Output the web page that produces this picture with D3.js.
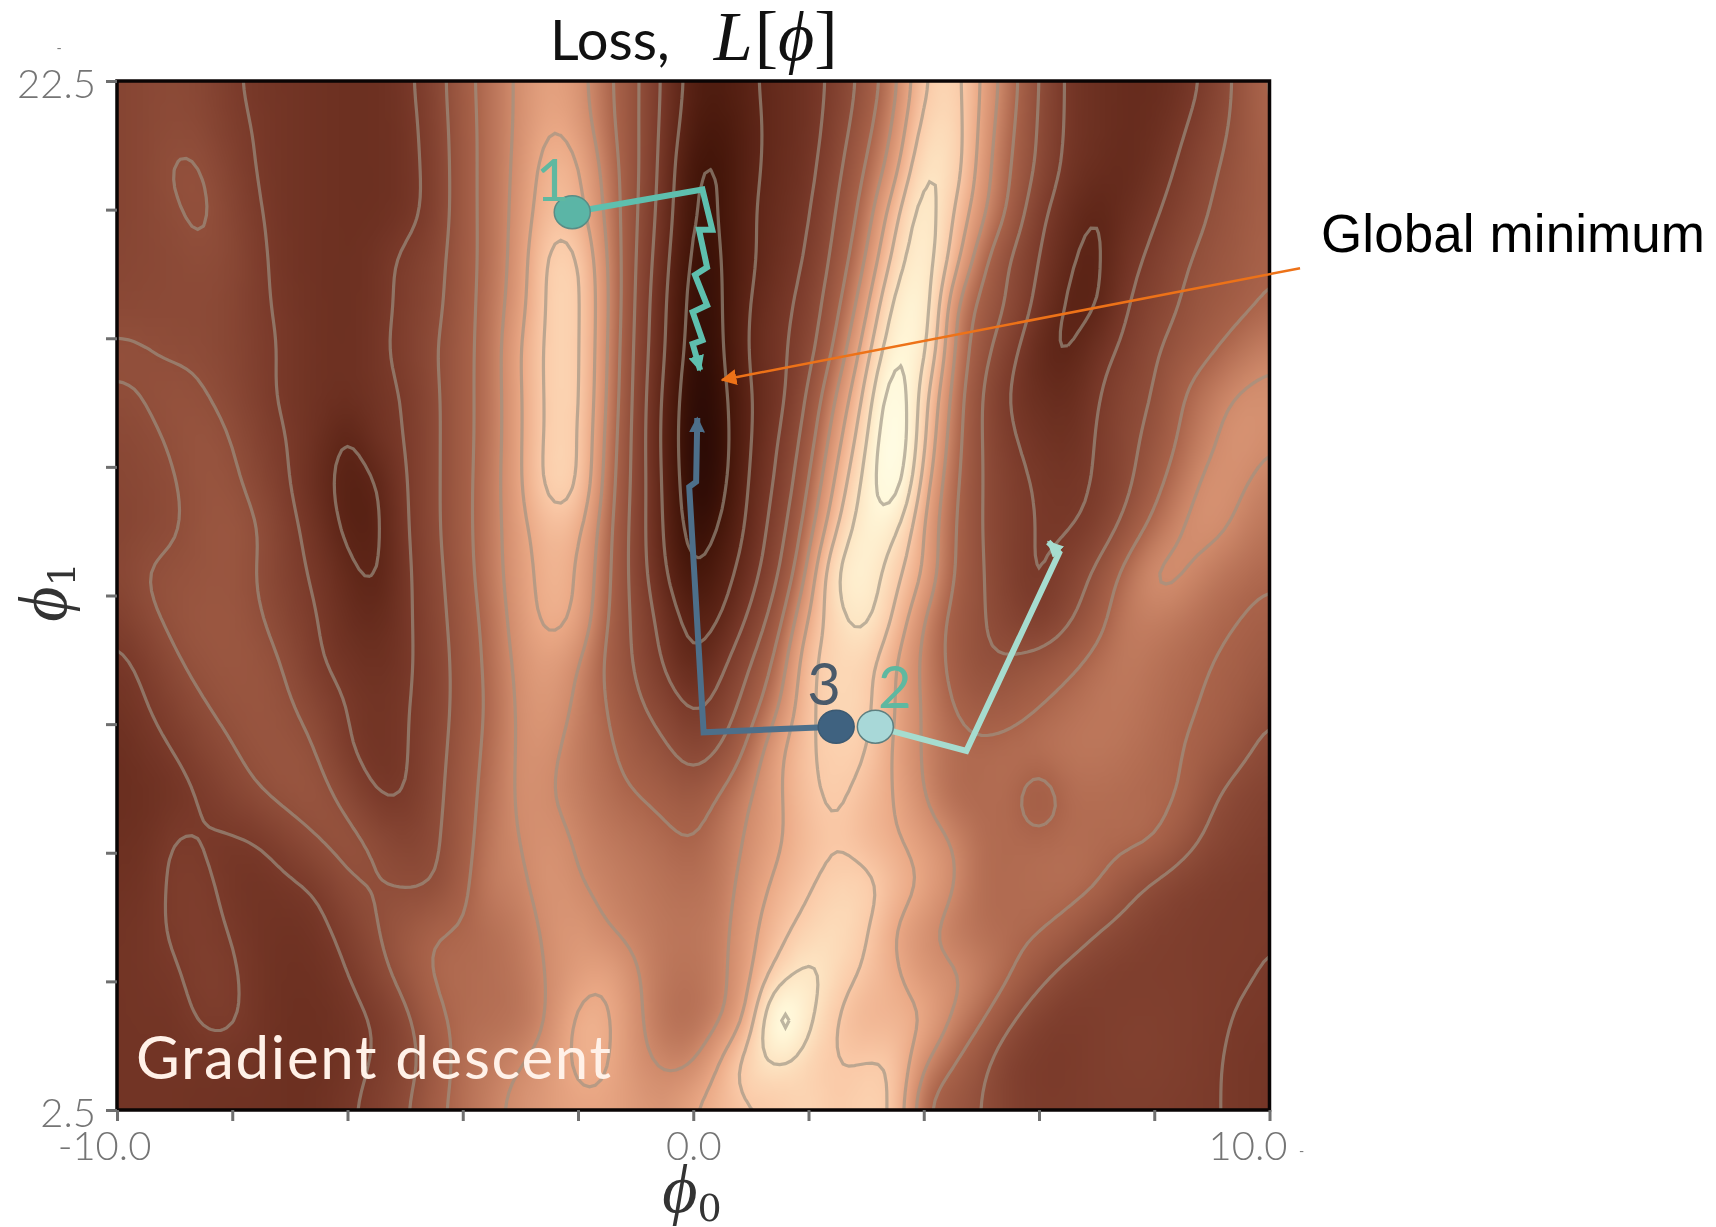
<!DOCTYPE html>
<html>
<head>
<meta charset="utf-8">
<style>
  html, body { margin: 0; padding: 0; background: #fff; }
  #wrap { position: relative; width: 1716px; height: 1227px; overflow: hidden; }
  canvas, svg { position: absolute; left: 0; top: 0; }
</style>
<script src="https://cdn.jsdelivr.net/npm/d3@7"></script>
</head>
<body>
<div id="wrap"></div>
<script>
// loss, in contour-level units, top row is phi1 = 22.5
const lossRows = [
  [3.5,3.7,3.8,3.6,3.1,2.8,2.7,2.6,2.5,2.5,2.8,3.5,4.7,5.4,6.2,6.8,6.4,5.2,4.2,2.8,1.6,1.5,1.9,2.3,2.6,3.3,4.4,5.7,7.9,8.5,6.9,5.4,4.0,2.8,2.5,2.3,2.3,2.6,3.3,4.3,5.2],
  [3.5,3.7,3.85,3.7,3.2,2.9,2.7,2.6,2.5,2.5,2.7,3.4,4.6,5.4,6.2,7.0,6.6,5.3,4.2,2.7,1.4,1.2,1.8,2.3,2.6,3.5,4.7,6.1,8.4,8.7,6.7,5.2,3.9,2.8,2.5,2.3,2.4,2.9,3.6,4.3,5.1],
  [3.5,3.7,4.1,4.05,3.4,2.9,2.7,2.6,2.5,2.5,2.7,3.3,4.6,5.4,6.3,7.5,7.2,5.6,4.2,2.6,1.0,1.0,1.85,2.3,2.7,3.8,5.1,6.6,9.1,8.7,6.5,5.0,3.8,2.7,2.4,2.2,2.6,3.2,3.9,4.4,4.9],
  [3.5,3.7,3.9,4.15,3.6,3.0,2.7,2.6,2.5,2.5,2.7,3.3,4.6,5.4,6.4,7.7,7.4,5.8,4.1,2.5,0.9,1.0,1.95,2.4,2.9,4.1,5.5,7.7,9.7,8.0,6.2,4.8,3.2,2.4,1.9,2.4,2.9,3.5,4.1,4.5,4.9],
  [3.6,3.7,3.8,3.9,3.7,3.1,2.7,2.6,2.5,2.7,3.2,3.6,4.6,5.4,6.5,8.3,8.2,6.0,4.0,2.3,0.7,0.95,1.9,2.5,3.1,4.4,6.0,8.4,9.8,7.6,5.3,3.9,3.0,2.1,1.8,2.7,3.2,3.9,4.3,4.6,5.0],
  [3.7,3.75,3.8,3.8,3.6,3.1,2.8,2.6,2.5,2.7,3.2,3.7,4.6,5.5,6.6,8.3,8.3,6.1,3.9,2.1,0.6,0.9,2.1,2.7,3.4,4.8,6.7,9.4,9.9,6.2,4.7,3.9,2.7,1.85,1.85,2.95,3.5,4.1,4.5,4.8,5.1],
  [4.15,4.05,3.9,3.85,3.6,3.2,2.85,2.6,2.5,2.8,3.3,3.9,4.7,5.5,7.0,8.3,8.3,6.0,3.8,2.05,0.5,0.85,2.2,2.8,3.6,5.3,7.5,10.0,9.5,6.0,4.4,3.3,2.2,1.85,2.6,3.2,3.9,4.4,4.9,5.4,5.8],
  [3.9,4.05,4.2,4.05,3.7,3.2,2.8,2.6,2.5,2.7,3.05,3.8,4.7,5.5,6.9,8.3,8.3,5.9,3.75,1.8,0.35,0.7,2.05,2.7,4.1,6.1,8.2,11.0,8.4,5.7,4.0,2.9,2.4,2.3,2.9,3.6,4.0,5.0,5.6,6.1,6.2],
  [3.7,3.85,4.1,4.3,4.0,3.4,2.95,2.5,1.85,2.6,3.0,3.8,4.7,5.5,6.9,8.3,8.2,5.7,3.7,1.7,0.3,0.6,2.05,3.0,4.5,6.7,8.8,11.3,8.1,5.5,4.0,3.1,2.7,2.5,3.05,3.7,4.3,5.2,5.9,6.4,6.05],
  [3.6,3.75,3.95,4.3,4.2,3.6,3.0,2.3,1.7,1.9,2.95,3.8,4.7,5.6,6.9,8.4,8.2,5.5,3.7,1.8,0.35,0.7,2.2,3.2,5.0,7.3,9.4,11.0,7.4,5.3,4.0,3.3,2.9,2.8,3.05,3.75,4.7,5.6,6.3,6.1,5.7],
  [3.5,3.7,3.9,4.3,4.4,4.0,3.2,2.6,1.75,1.8,2.9,3.8,4.7,5.6,6.7,7.6,7.3,5.3,3.6,1.9,0.55,1.1,2.3,3.6,5.5,8.0,9.8,9.3,6.9,5.1,4.0,3.3,2.95,2.9,3.3,4.3,5.3,6.1,6.25,5.8,5.4],
  [3.6,4.05,4.2,4.3,4.35,3.9,3.3,2.8,2.2,1.85,2.8,3.7,4.6,5.6,6.6,7.4,7.0,5.2,3.6,2.1,0.95,1.6,2.6,4.0,6.2,9.3,9.7,8.3,7.0,5.0,4.1,3.3,2.9,3.4,4.2,5.3,6.2,6.1,5.6,5.3,5.1],
  [3.2,3.8,4.25,4.4,4.4,4.05,3.5,3.0,2.4,2.2,2.8,3.6,4.5,5.4,6.5,7.3,6.9,5.0,3.8,2.6,1.6,2.0,3.2,4.7,7.1,8.7,9.4,7.8,6.0,4.7,4.1,3.5,3.1,3.8,4.6,5.6,5.7,5.5,5.2,5.0,4.8],
  [2.8,3.2,3.9,4.3,4.4,4.3,3.85,3.05,2.7,2.5,2.8,3.5,4.4,5.3,6.3,6.7,6.05,4.8,3.9,2.9,2.0,2.8,4.0,5.4,7.8,8.5,8.4,7.0,5.8,4.7,4.1,4.1,4.4,4.8,5.3,5.6,5.4,5.2,5.0,4.8,4.5],
  [2.6,2.95,3.4,3.95,4.25,4.35,4.1,3.6,2.95,2.7,2.9,3.5,4.4,5.2,6.2,6.5,5.8,5.0,4.2,3.6,2.85,3.4,4.6,6.0,7.8,8.6,8.3,7.0,5.9,5.0,4.6,4.7,5.0,5.3,5.5,5.5,5.3,5.1,4.9,4.6,4.1],
  [2.4,2.7,3.0,3.5,3.95,4.3,4.3,4.0,3.05,2.7,2.9,3.6,4.5,5.3,6.2,6.2,5.6,5.2,4.6,4.2,3.6,4.1,5.4,6.9,7.9,8.3,8.1,6.8,5.9,5.3,5.2,5.3,5.4,5.5,5.5,5.4,5.2,5.0,4.7,4.2,3.7],
  [2.4,2.5,2.7,3.05,3.5,3.95,4.3,4.3,3.8,2.95,2.97,3.7,4.6,5.4,6.2,6.05,5.7,5.3,5.05,4.8,4.5,5.2,6.0,6.9,7.8,8.2,7.6,7.0,6.0,5.2,5.15,5.2,4.5,5.2,5.25,5.2,5.1,5.0,4.1,3.6,3.4],
  [2.5,2.6,3.1,2.95,2.85,3.0,3.5,4.05,4.3,3.9,3.5,3.85,4.6,5.6,6.0,6.3,5.9,5.6,5.4,5.2,5.0,5.5,6.2,6.9,7.6,7.95,7.5,7.1,6.6,6.0,5.25,5.2,5.2,5.25,5.2,5.2,5.1,4.4,3.7,3.4,3.2],
  [2.6,2.7,3.15,3.15,2.8,2.7,2.85,3.1,3.9,4.05,3.95,3.95,4.8,5.7,5.8,6.4,6.05,5.8,5.6,5.4,5.3,5.6,6.5,7.3,7.9,8.4,8.4,7.6,6.9,6.1,5.25,5.2,5.25,5.3,5.1,4.4,3.8,3.4,3.2,3.1,3.05],
  [2.7,2.8,3.1,3.2,2.95,2.7,2.6,2.75,3.3,4.0,4.5,5.0,5.1,5.3,5.6,6.2,6.5,6.0,5.75,5.5,5.5,5.7,6.8,7.7,8.4,8.8,8.1,6.9,6.2,5.6,5.3,5.2,5.1,4.7,4.0,3.6,3.3,3.2,3.1,3.1,3.02],
  [2.7,2.8,2.9,3.25,3.1,2.7,2.55,2.6,2.95,3.6,4.4,5.1,5.2,5.3,5.5,6.1,6.6,6.9,6.1,5.5,5.4,5.8,6.9,8.5,9.4,8.5,7.8,7.2,6.4,6.2,5.7,5.1,4.3,3.6,3.3,3.2,3.2,3.2,3.1,3.05,2.95],
  [2.7,2.75,2.75,3.1,3.1,2.7,2.5,2.5,2.7,3.05,3.7,4.8,5.2,5.3,5.4,6.05,7.3,7.2,6.2,5.4,5.3,5.9,7.4,11.2,9.2,7.9,7.3,7.4,7.1,5.9,5.1,4.1,3.3,3.1,3.2,3.3,3.3,3.2,3.1,2.95,2.9],
  [2.7,2.7,2.7,2.7,2.7,2.65,2.5,2.5,2.7,3.1,3.6,4.5,5.3,5.6,6.0,6.5,7.2,7.1,6.3,5.9,5.95,7.3,8.8,8.9,8.3,8.0,8.1,8.0,6.0,5.0,4.2,3.3,3.05,3.05,3.2,3.3,3.3,3.2,3.05,2.9,2.8],
  [2.7,2.7,2.7,2.65,2.6,2.6,2.5,2.6,2.9,3.3,3.9,4.8,5.3,5.8,6.3,6.6,6.8,6.8,6.6,6.4,7.1,7.5,7.8,8.0,8.6,7.95,8.4,7.9,5.0,4.4,4.0,3.4,3.1,3.1,3.2,3.2,3.2,3.1,3.05,2.9,2.8]
];
const contourLevels = [1, 2, 3, 4, 5, 6, 7, 8, 9, 10];
const colorLevels = [0, 1, 2, 3, 4, 5, 6, 7, 8, 9, 10, 11];
const colorStops = ['#1e0503', '#431509', '#5f2618', '#7a3a2a', '#904e3a', '#a9634a', '#cf8a6b', '#eaa885', '#fac9a7', '#fde4c2', '#fff8da', '#fffde8'];

const xTicks = [-10, -8, -6, -4, -2, 0, 2, 4, 6, 8, 10];
const xLabelled = [-10, 0, 10];
const yTicks = [2.5, 5, 7.5, 10, 12.5, 15, 17.5, 20, 22.5];
const yLabelled = [2.5, 22.5];

// gradient descent runs, [phi0, phi1]
const run1 = [[-2.10, 19.95], [0.16, 20.39], [0.33, 19.61], [0.10, 19.61], [0.24, 18.88], [0.03, 18.73], [0.24, 18.14], [-0.01, 18.01], [0.16, 17.46], [-0.01, 17.39], [0.12, 16.88]];
const run2 = [[3.16, 9.95], [4.74, 9.48], [6.35, 13.33], [6.16, 13.54]];
const run3 = [[2.48, 9.95], [0.18, 9.84], [-0.07, 14.61], [0.05, 14.71], [0.07, 15.95]];
const runLabels = ['1', '2', '3'];
const runLabelAt = [[-2.44, 20.6], [3.50, 10.76], [2.27, 10.8]];
const runColors = ['#5ebfae', '#a6dccf', '#4d6f8a'];
const dotColors = ['#5bb5a6', '#a8d8d8', '#3f6280'];
const dotStrokes = ['#5a8c85', '#5d7f80', '#3c5a72'];
const labelColors = ['#5fb8a0', '#5fb8a0', '#4a5a6a'];

const minimumArrow = [[10.53, 18.86], [0.50, 16.69]];
const specks = [[10.51, 1.6], [-11.05, 23.05]];

const plotLeft = 117;
const plotRight = 1269.5;
const plotTop = 81;
const plotBottom = 1110;
const resample = 5;

const xScale = d3.scaleLinear().domain([-10, 10]).range([plotLeft, plotRight]);
const yScale = d3.scaleLinear().domain([2.5, 22.5]).range([plotBottom, plotTop]);
const nCols = lossRows[0].length;
const nRows = lossRows.length;
const colToPhi0 = d3.scaleLinear().domain([0, nCols - 1]).range([-10, 10]);
const rowToPhi1 = d3.scaleLinear().domain([0, nRows - 1]).range([22.5, 2.5]);
const colorScale = d3.scaleLinear().domain(colorLevels).range(colorStops).clamp(true);

const wrap = d3.select('#wrap');

// display resampling of the read grid, the grid itself stays as read
function cubic(p0, p1, p2, p3, t) {
  return 0.5 * (2 * p1 + (p2 - p0) * t + (2 * p0 - 5 * p1 + 4 * p2 - p3) * t * t + (3 * p1 - p0 - 3 * p2 + p3) * t * t * t);
}

function sampleField(col, row) {
  const i = Math.min(Math.floor(col), nCols - 2);
  const j = Math.min(Math.floor(row), nRows - 2);
  const at = (a, b) => lossRows[Math.max(0, Math.min(nRows - 1, b))][Math.max(0, Math.min(nCols - 1, a))];
  const rowValue = b => cubic(at(i - 1, b), at(i, b), at(i + 1, b), at(i + 2, b), col - i);
  return cubic(rowValue(j - 1), rowValue(j), rowValue(j + 1), rowValue(j + 2), row - j);
}

const fineCols = (nCols - 1) * resample + 1;
const fineRows = (nRows - 1) * resample + 1;
let fineField = [];
d3.range(fineRows).forEach(v => {
  d3.range(fineCols).forEach(u => {
    fineField.push(sampleField(u / resample, v / resample));
  });
});
fineField = d3.blur2({data: fineField, width: fineCols, height: fineRows}, 1.5).data;

function drawHeat() {
  const small = document.createElement('canvas');
  small.width = fineCols;
  small.height = fineRows;
  const sctx = small.getContext('2d');
  fineField.forEach((v, k) => {
    sctx.fillStyle = colorScale(v);
    sctx.fillRect(k % fineCols, Math.floor(k / fineCols), 1, 1);
  });

  const canvas = wrap.append('canvas').attr('width', 1716).attr('height', 1227).node();
  const ctx = canvas.getContext('2d');
  ctx.imageSmoothingEnabled = true;
  ctx.imageSmoothingQuality = 'high';
  ctx.beginPath();
  ctx.rect(plotLeft, plotTop, plotRight - plotLeft, plotBottom - plotTop);
  ctx.clip();
  const half = 0.5 / resample;
  const x0 = xScale(colToPhi0(-half));
  const x1 = xScale(colToPhi0(nCols - 1 + half));
  const y0 = yScale(rowToPhi1(-half));
  const y1 = yScale(rowToPhi1(nRows - 1 + half));
  ctx.drawImage(small, x0, y0, x1 - x0, y1 - y0);
}

function drawChart() {
  const svg = wrap.append('svg').attr('width', 1716).attr('height', 1227);

  const defs = svg.append('defs');
  defs.append('clipPath').attr('id', 'plotClip')
      .append('rect')
      .attr('x', plotLeft).attr('y', plotTop)
      .attr('width', plotRight - plotLeft)
      .attr('height', plotBottom - plotTop);

  const addHead = (id, color, size) => {
    defs.append('marker')
        .attr('id', id)
        .attr('viewBox', '0 0 10 10')
        .attr('refX', 9).attr('refY', 5)
        .attr('markerUnits', 'userSpaceOnUse')
        .attr('markerWidth', size).attr('markerHeight', size)
        .attr('orient', 'auto')
        .append('path')
        .attr('d', 'M0,0L10,5L0,10Z')
        .attr('fill', color);
  };
  runColors.forEach((c, i) => addHead(`head${i}`, c, 16));
  addHead('headOrange', '#ed7218', 16);

  // contour lines
  const contours = d3.contours()
      .size([fineCols, fineRows])
      .thresholds(contourLevels)(fineField);
  const ringLine = d3.line()
      .x(d => xScale(colToPhi0((d[0] - 0.5) / resample)))
      .y(d => yScale(rowToPhi1((d[1] - 0.5) / resample)));

  const contourG = svg.append('g')
      .attr('clip-path', 'url(#plotClip)')
      .append('g')
      .style('filter', 'blur(0.7px)');
  contours.forEach(c => {
    c.coordinates.forEach(poly => {
      poly.forEach(ring => {
        contourG.append('path')
            .attr('d', ringLine(ring))
            .attr('fill', 'none')
            .attr('stroke', '#9c9384')
            .attr('stroke-opacity', 0.66)
            .attr('stroke-width', 3.2);
      });
    });
  });

  // frame
  svg.append('rect')
      .attr('x', plotLeft).attr('y', plotTop)
      .attr('width', plotRight - plotLeft)
      .attr('height', plotBottom - plotTop)
      .attr('fill', 'none')
      .attr('stroke', '#0a0505')
      .attr('stroke-width', 3.5);

  // axes
  const xAxis = d3.axisBottom(xScale)
      .tickValues(xTicks)
      .tickSize(11)
      .tickFormat(d => (xLabelled.includes(d) ? d.toFixed(1) : ''));
  const xAxisG = svg.append('g')
      .attr('id', 'xAxisG')
      .attr('transform', `translate(0, ${plotBottom})`)
      .call(xAxis);
  xAxisG.select('.domain').remove();
  xAxisG.selectAll('line').attr('stroke', '#6f6f6f').attr('stroke-width', 3);
  xAxisG.selectAll('text')
      .attr('font-family', 'Lato')
      .attr('font-weight', 300)
      .attr('font-size', 40)
      .attr('fill', '#757575')
      .attr('y', 20)
      .attr('dy', '0.75em')
      .attr('dx', d => (d === -10 ? -13 : d === 10 ? -22 : 0));

  const yAxis = d3.axisLeft(yScale)
      .tickValues(yTicks)
      .tickSize(11)
      .tickFormat(d => (yLabelled.includes(d) ? d.toFixed(1) : ''));
  const yAxisG = svg.append('g')
      .attr('id', 'yAxisG')
      .attr('transform', `translate(${plotLeft}, 0)`)
      .call(yAxis);
  yAxisG.select('.domain').remove();
  yAxisG.selectAll('line').attr('stroke', '#6f6f6f').attr('stroke-width', 3);
  yAxisG.selectAll('text')
      .attr('font-family', 'Lato')
      .attr('font-weight', 300)
      .attr('font-size', 40)
      .attr('fill', '#757575')
      .attr('x', -21)
      .attr('dy', '0.42em');

  specks.forEach(d => {
    svg.append('text')
        .attr('x', xScale(d[0]))
        .attr('y', yScale(d[1]))
        .attr('font-family', 'Lato')
        .attr('font-size', 14)
        .attr('fill', '#757575')
        .text('-');
  });

  // runs
  const runLine = d3.line().x(d => xScale(d[0])).y(d => yScale(d[1]));
  [run1, run2, run3].forEach((run, i) => {
    svg.append('path')
        .attr('d', runLine(run))
        .attr('fill', 'none')
        .attr('stroke', runColors[i])
        .attr('stroke-width', 6)
        .attr('marker-end', `url(#head${i})`);
    svg.append('ellipse')
        .attr('cx', xScale(run[0][0]))
        .attr('cy', yScale(run[0][1]))
        .attr('rx', 18)
        .attr('ry', 16.5)
        .attr('fill', dotColors[i])
        .attr('stroke', dotStrokes[i])
        .attr('stroke-width', 1.5);
    svg.append('text')
        .attr('x', xScale(runLabelAt[i][0]))
        .attr('y', yScale(runLabelAt[i][1]))
        .attr('text-anchor', 'middle')
        .attr('dominant-baseline', 'central')
        .attr('font-family', 'Lato')
        .attr('font-size', 58)
        .attr('fill', labelColors[i])
        .text(runLabels[i]);
  });

  svg.append('text')
      .attr('x', 136)
      .attr('y', 1079)
      .attr('font-family', 'Lato')
      .attr('font-size', 60)
      .attr('textLength', 475)
      .attr('fill', '#fff1e8')
      .text('Gradient descent');

  // title
  const title = svg.append('text')
      .attr('x', 550)
      .attr('y', 60)
      .attr('fill', '#111');
  title.append('tspan').attr('font-family', 'Lato').attr('font-size', 56).text('Loss,');
  const mathTspan = (str, style, dx) => title.append('tspan')
      .attr('font-family', 'Liberation Serif')
      .attr('font-size', 70)
      .attr('font-style', style)
      .attr('dx', dx)
      .text(str);
  mathTspan('L', 'italic', 44);
  mathTspan('[', 'normal', 2);
  mathTspan('\u03d5', 'italic', 0);
  mathTspan(']', 'normal', 0);

  // axis names
  const phiLabel = (sel, sub) => {
    sel.attr('text-anchor', 'middle').attr('fill', '#333');
    sel.append('tspan')
        .attr('font-family', 'Liberation Serif')
        .attr('font-style', 'italic')
        .attr('font-size', 68)
        .text('\u03d5');
    sel.append('tspan')
        .attr('font-family', 'DejaVu Serif')
        .attr('font-size', 38)
        .attr('dy', 9)
        .text(sub);
  };
  svg.append('text').attr('x', 692).attr('y', 1212).call(phiLabel, '0');
  svg.append('text')
      .attr('transform', 'translate(66, 592) rotate(-90)')
      .call(phiLabel, '1');

  // annotation
  svg.append('path')
      .attr('d', runLine(minimumArrow))
      .attr('fill', 'none')
      .attr('stroke', '#ed7218')
      .attr('stroke-width', 2.5)
      .attr('marker-end', 'url(#headOrange)');
  svg.append('text')
      .attr('x', 1321)
      .attr('y', 252)
      .attr('font-family', 'Liberation Sans')
      .attr('font-size', 53)
      .attr('textLength', 384)
      .attr('fill', '#000')
      .text('Global minimum');
}

drawHeat();
drawChart();
</script>
</body>
</html>
